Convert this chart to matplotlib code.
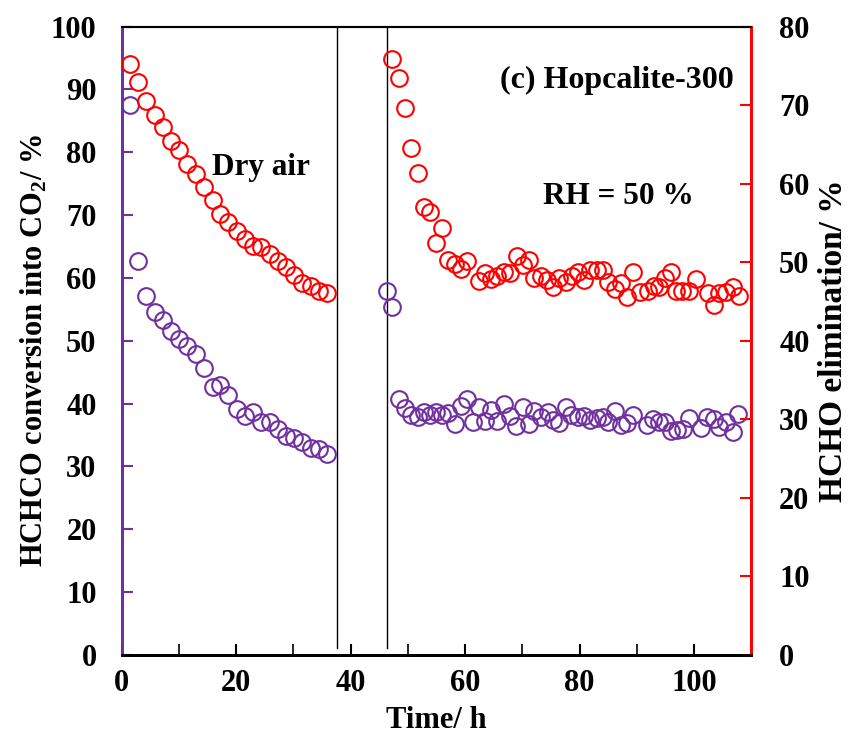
import matplotlib
matplotlib.use("Agg")
import matplotlib.pyplot as plt

# Dry air period
dry_time = [1.4, 2.9, 4.3, 5.8, 7.2, 8.6, 10.1, 11.5, 13.0, 14.4, 15.9, 17.2, 18.6,
            20.1, 21.5, 23.0, 24.4, 25.9, 27.3, 28.8, 30.1, 31.6, 33.0, 34.5, 35.9]
dry_conv = [87.5, 62.7, 57.1, 54.5, 53.3, 51.6, 50.3, 49.2, 47.9, 45.7, 42.7, 42.9, 41.3,
            39.1, 38.0, 38.7, 37.1, 37.1, 36.0, 34.8, 34.6, 33.9, 33.0, 32.8, 32.0]
dry_elim = [75.3, 73.0, 70.5, 68.8, 67.2, 65.5, 64.3, 62.5, 61.2, 59.6, 57.9, 56.2, 55.1,
            54.0, 52.9, 52.1, 51.9, 51.0, 50.1, 49.4, 48.4, 47.3, 47.0, 46.3, 46.1]

# RH = 50 % period
rh_time_conv = [46.3, 47.3, 48.5, 49.5, 50.6, 51.7, 52.8, 53.9, 54.9, 56.0, 57.1, 58.2,
                59.2, 60.3, 61.4, 62.4, 63.5, 64.6, 65.6, 66.8, 67.9, 68.9, 70.1, 71.1,
                72.1, 73.3, 74.4, 75.3, 76.4, 77.6, 78.5, 79.7, 80.8, 81.8, 83.0, 84.0,
                85.0, 86.2, 87.2, 88.3, 89.4, 91.7, 92.8, 93.8, 94.9, 95.9, 97.0, 98.1,
                99.1, 101.2, 102.3, 103.4, 104.4, 105.6, 106.8, 107.7]
rh_conv = [57.9, 55.4, 40.8, 39.3, 38.2, 37.9, 38.7, 38.2, 38.6, 38.2, 38.5, 36.8,
           39.6, 40.7, 37.0, 39.4, 37.2, 39.0, 37.3, 39.9, 38.1, 36.4, 39.5, 36.8,
           38.8, 37.9, 38.7, 37.4, 36.9, 39.5, 38.2, 37.8, 38.1, 37.4, 37.7, 37.9,
           37.0, 38.9, 36.6, 36.9, 38.2, 36.6, 37.6, 37.1, 37.0, 35.7, 35.8, 35.9,
           37.7, 36.1, 37.9, 37.6, 36.3, 37.1, 35.4, 38.4]

rh_time_elim = [47.3, 48.5, 49.5, 50.6, 51.7, 52.8, 53.9, 55.9, 54.9, 57.1, 58.2, 59.2,
                60.3, 62.4, 63.5, 64.6, 65.6, 66.8, 67.9, 69.0, 70.1, 71.1, 72.1, 73.3,
                74.3, 75.3, 76.4, 77.6, 78.6, 79.7, 80.8, 81.8, 83.0, 84.0, 85.0, 86.2,
                87.3, 88.3, 89.4, 90.6, 91.9, 93.0, 93.9, 94.9, 95.9, 96.9, 97.9, 99.1,
                100.3, 102.4, 103.5, 104.4, 105.6, 106.8, 107.8]
rh_elim = [75.9, 73.4, 69.7, 64.5, 61.3, 57.0, 56.4, 54.4, 52.4, 50.3, 49.8, 49.2,
           50.1, 47.6, 48.6, 47.9, 48.3, 48.8, 48.6, 50.8, 49.7, 50.3, 48.0, 48.3,
           47.7, 46.8, 48.0, 47.5, 48.2, 48.8, 47.8, 49.0, 49.0, 49.0, 47.5, 46.6,
           47.4, 45.6, 48.7, 46.2, 46.4, 47.0, 46.9, 48.0, 48.8, 46.4, 46.4, 46.3,
           47.9, 46.1, 44.6, 46.1, 46.2, 46.8, 45.7]

purple = "#7030A0"
red = "#FF0000"
font = "Liberation Serif"
plt.rcParams["font.family"] = [font, "DejaVu Serif"]
plt.rcParams["font.weight"] = "bold"
plt.rcParams["mathtext.fontset"] = "custom"
plt.rcParams["mathtext.rm"] = "Liberation Serif:bold"
plt.rcParams["mathtext.it"] = "Liberation Serif:bold"
plt.rcParams["mathtext.bf"] = "Liberation Serif:bold"

fig = plt.figure(figsize=(8.5, 7.4), dpi=100)
ax = fig.add_axes([0.143, 0.115, 0.741, 0.849])
ax2 = ax.twinx()

ms = 12
mew = 1.5
ax.plot(dry_time, dry_conv, "o", mfc="none", mec=purple, ms=ms, mew=mew, zorder=3)
ax.plot(rh_time_conv, rh_conv, "o", mfc="none", mec=purple, ms=ms, mew=mew, zorder=3)
ax2.plot(dry_time, dry_elim, "o", mfc="none", mec=red, ms=ms, mew=mew, zorder=3)
ax2.plot(rh_time_elim, rh_elim, "o", mfc="none", mec=red, ms=ms, mew=mew, zorder=3)

ax.plot([37.6, 37.6], [1.1, 100], color="black", lw=1)
ax.plot([46.4, 46.4], [1.1, 100], color="black", lw=1)

ax.set_xlim(0, 110)
ax.set_ylim(0, 100)
ax2.set_ylim(0, 80)
ax.set_xticks([0, 20, 40, 60, 80, 100])
ax.set_xticks(range(0, 111, 10), minor=True)
ax.set_yticks(range(0, 101, 10))
ax2.set_yticks(range(0, 81, 10))

fs = 22
ax.tick_params(axis="x", direction="in", length=8, width=1.5, labelsize=fs, pad=10)
ax.tick_params(axis="x", which="minor", direction="in", length=8, width=1.2)
ax.tick_params(axis="y", direction="in", length=8, width=1.5, color=purple, labelsize=fs, pad=18)
ax2.tick_params(axis="y", direction="in", length=8, width=1.5, color=red, labelsize=fs, pad=20)
for lab in ax.get_xticklabels() + ax.get_yticklabels() + ax2.get_yticklabels():
    lab.set_fontweight("bold")
    lab.set_fontfamily(font)

for a in (ax, ax2):
    a.spines["left"].set_color(purple)
    a.spines["left"].set_linewidth(2)
    a.spines["right"].set_color(red)
    a.spines["right"].set_linewidth(2)
    a.spines["bottom"].set_color("black")
    a.spines["bottom"].set_linewidth(2)
    a.spines["top"].set_color("black")
    a.spines["top"].set_linewidth(1.5)

ax.set_xlabel("Time/ h", fontsize=22, fontweight="bold", labelpad=6)
ax.set_ylabel(r"HCHCO conversion into CO$_2$/ %", fontsize=22, fontweight="bold")
ax.yaxis.set_label_coords(-0.114, 0.485)
ax2.set_ylabel("HCHO elimination/ %", fontsize=24, fontweight="bold", labelpad=6)

ax.text(15.8, 76.4, "Dry air", fontsize=22.5, fontweight="bold")
ax.text(73.6, 71.7, "RH = 50 %", fontsize=22.5, fontweight="bold")
ax.text(107, 90.3, "(c) Hopcalite-300", fontsize=23, fontweight="bold", ha="right")

fig.savefig("out.png", dpi=100)
